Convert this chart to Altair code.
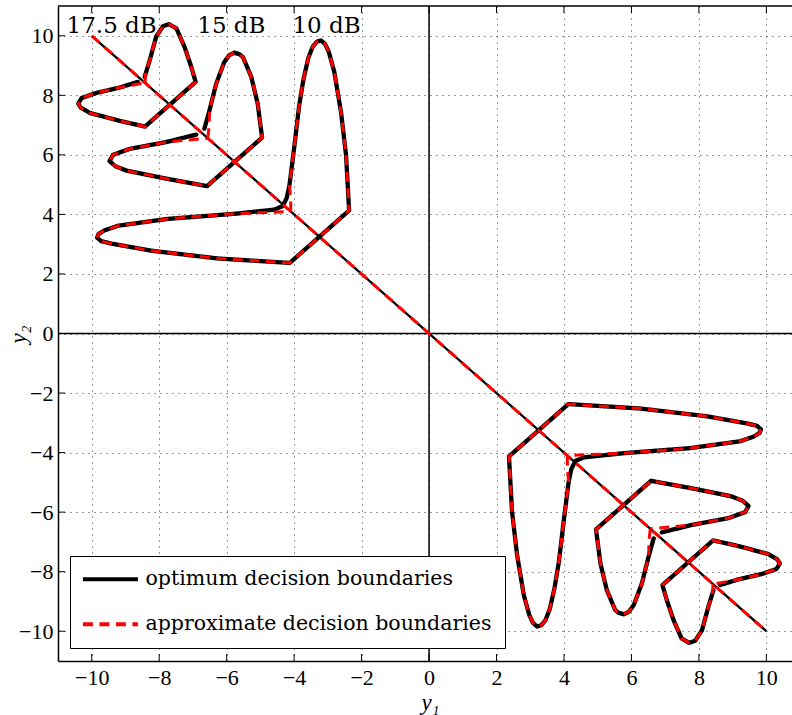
import altair as alt
import pandas as pd

# ---- axes -------------------------------------------------------------
TICKS = [-10, -8, -6, -4, -2, 0, 2, 4, 6, 8, 10]
X_DOMAIN = [-11, 10.76]
Y_DOMAIN = [-11, 11]

OPT = "optimum decision boundaries"
APX = "approximate decision boundaries"

# ---- decision boundaries, upper-left branch (y1, y2) --------------------
# the lower-right branch is the point reflection (y1, y2) -> (-y1, -y2)
opt10_y1 = [-4.22, -4.14, -3.99, -3.85, -3.72, -3.58, -3.45, -3.33, -3.20, -3.08,
            -2.97, -2.81, -2.61, -2.46, -2.37, -4.13, -6.26, -8.23, -9.42, -9.72,
            -9.84, -9.80, -9.63, -9.22, -7.74, -5.77, -4.59, -4.34, -4.22]
opt10_y2 = [4.55, 4.97, 6.32, 7.66, 8.55, 9.25, 9.63, 9.80, 9.84, 9.72,
            9.45, 8.79, 7.44, 5.98, 4.13, 2.37, 2.52, 2.78, 3.02, 3.10,
            3.22, 3.34, 3.46, 3.62, 3.85, 4.02, 4.16, 4.28, 4.55]
apx10_y1 = [-4.10, -4.10, -4.14, -3.99, -3.85, -3.72, -3.58, -3.45, -3.33, -3.20,
            -3.08, -2.97, -2.81, -2.61, -2.46, -2.37, -4.13, -6.26, -8.23, -9.42,
            -9.72, -9.84, -9.80, -9.63, -9.22, -7.74, -5.77, -4.10]
apx10_y2 = [4.10, 4.55, 4.97, 6.32, 7.66, 8.55, 9.25, 9.63, 9.80, 9.84,
            9.72, 9.45, 8.79, 7.44, 5.98, 4.13, 2.37, 2.52, 2.78, 3.02,
            3.10, 3.22, 3.34, 3.46, 3.62, 3.85, 4.02, 4.10]

opt15_y1 = [-6.66, -6.51, -6.31, -6.07, -5.92, -5.77, -5.62, -5.52, -5.27, -5.08,
            -4.95, -6.58, -7.79, -8.97, -9.30, -9.47, -9.37, -8.88, -7.79, -6.90]
opt15_y2 = [6.88, 7.49, 8.39, 9.12, 9.35, 9.43, 9.38, 9.29, 8.62, 7.72,
            6.58, 4.95, 5.20, 5.47, 5.62, 5.79, 6.00, 6.20, 6.43, 6.68]
apx15_y1 = [-6.56, -6.52, -6.51, -6.31, -6.07, -5.92, -5.77, -5.62, -5.52, -5.27,
            -5.08, -4.95, -6.58, -7.79, -8.97, -9.30, -9.47, -9.37, -8.88, -7.79, -6.56]
apx15_y2 = [6.56, 6.95, 7.49, 8.39, 9.12, 9.35, 9.43, 9.38, 9.29, 8.62,
            7.72, 6.58, 4.95, 5.20, 5.47, 5.62, 5.79, 6.00, 6.20, 6.43, 6.56]

opt17_y1 = [-8.43, -8.28, -8.09, -7.89, -7.71, -7.49, -7.25, -7.05, -6.92, -8.42,
            -9.17, -10.06, -10.32, -10.40, -10.30, -9.86, -9.17, -8.63]
opt17_y2 = [8.62, 9.18, 9.97, 10.32, 10.39, 10.25, 9.63, 8.96, 8.45, 6.95,
            7.14, 7.41, 7.58, 7.72, 7.91, 8.08, 8.26, 8.45]
apx17_y1 = [-8.42, -8.40, -8.28, -8.09, -7.89, -7.71, -7.49, -7.25, -7.05, -6.92,
            -8.42, -9.17, -10.06, -10.32, -10.40, -10.30, -9.86, -9.17, -8.42]
apx17_y2 = [8.42, 8.80, 9.18, 9.97, 10.32, 10.39, 10.25, 9.63, 8.96, 8.45,
            6.95, 7.14, 7.41, 7.58, 7.72, 7.91, 8.08, 8.26, 8.42]

# common diagonal boundary
diag_y1 = [-10, 10]
diag_y2 = [10, -10]

# SNR annotations
snr_labels = ["17.5 dB", "15 dB", "10 dB"]
snr_y1 = [-9.41, -5.86, -3.04]
snr_y2 = [10.08, 10.08, 10.08]


def build(curves, kind):
    rows = []
    for name, xs, ys in curves:
        for sign, side in ((1, "ul"), (-1, "lr")):
            for i, (a, b) in enumerate(zip(xs, ys)):
                rows.append({"curve": f"{name}-{side}", "kind": kind,
                             "order": i, "y1": sign * a, "y2": sign * b})
    return pd.DataFrame(rows)


opt_df = build([("10", opt10_y1, opt10_y2), ("15", opt15_y1, opt15_y2),
                ("17.5", opt17_y1, opt17_y2)], OPT)
apx_df = build([("10", apx10_y1, apx10_y2), ("15", apx15_y1, apx15_y2),
                ("17.5", apx17_y1, apx17_y2)], APX)
diag_df = pd.DataFrame({"y1": diag_y1, "y2": diag_y2, "order": [0, 1]})
text_df = pd.DataFrame({"y1": snr_y1, "y2": snr_y2, "label": snr_labels})
xtick_df = pd.DataFrame({"y1": TICKS})
ytick_df = pd.DataFrame({"y2": TICKS})
top_df = pd.DataFrame({"y1": [X_DOMAIN[0]], "y1b": [X_DOMAIN[1]], "y2": [Y_DOMAIN[1]]})

# ---- shared encodings ---------------------------------------------------
xs = alt.Scale(domain=X_DOMAIN, nice=False, zero=False)
ys = alt.Scale(domain=Y_DOMAIN, nice=False, zero=False)

common_axis = dict(values=TICKS, ticks=False, labelFont="Liberation Serif",
                   labelFontSize=22, labelColor="black", labelOverlap=False,
                   labelFlush=False, grid=True, gridDash=[1, 5], gridColor="#333333",
                   gridWidth=1, gridOpacity=1, domainColor="black", domainWidth=1.5,
                   titleFont="Liberation Serif", titleFontStyle="italic",
                   titleFontSize=23, titleFontWeight="normal", titleColor="black",
                   titleAlign="center", titleBaseline="middle")
x_axis = alt.Axis(title="y₁", labelPadding=6, titleX=372, titleY=41, **common_axis)
y_axis = alt.Axis(title="y₂", labelPadding=5, titleX=-40, titleY=328,
                  titleAngle=270, **common_axis)


def X(field="y1"):
    return alt.X(f"{field}:Q", scale=xs, axis=x_axis)


def Y(field="y2"):
    return alt.Y(f"{field}:Q", scale=ys, axis=y_axis)


# legend sample: a long horizontal stroke drawn from a short symbol footprint
legend = alt.Legend(title=None, orient="none", legendX=12, legendY=550,
                    symbolType="M-1.5,0H6.5", symbolSize=189, symbolStrokeWidth=4,
                    labelFont="DejaVu Serif", labelFontSize=20.5, labelColor="black",
                    labelOffset=42, labelLimit=800, rowPadding=24, padding=13,
                    strokeColor="black", fillColor="white")
color_enc = alt.Color("kind:N", scale=alt.Scale(domain=[OPT, APX], range=["black", "#ff0000"]),
                      legend=legend)
dash_enc = alt.StrokeDash("kind:N", scale=alt.Scale(domain=[OPT, APX], range=[[1, 0], [10, 6.5]]),
                          legend=legend)

# ---- layers -------------------------------------------------------------
zero_v = alt.Chart(pd.DataFrame({"y1": [0]})).mark_rule(color="black", strokeWidth=1.5).encode(x=X())
zero_h = alt.Chart(pd.DataFrame({"y2": [0]})).mark_rule(color="black", strokeWidth=1.5).encode(y=Y())

diag_black = alt.Chart(diag_df).mark_line(color="black", strokeWidth=2.3).encode(
    x=X(), y=Y(), order="order:Q")
diag_red = alt.Chart(diag_df).mark_line(color="#ff0000", strokeWidth=3, strokeDash=[10, 7]).encode(
    x=X(), y=Y(), order="order:Q")

opt_lines = alt.Chart(opt_df).mark_line(strokeWidth=4.3, strokeJoin="round", strokeCap="round").encode(
    x=X(), y=Y(), color=color_enc, strokeDash=dash_enc, detail="curve:N", order="order:Q")
apx_lines = alt.Chart(apx_df).mark_line(strokeWidth=3, strokeJoin="miter").encode(
    x=X(), y=Y(), color=color_enc, strokeDash=dash_enc, detail="curve:N", order="order:Q")

snr_text = alt.Chart(text_df).mark_text(font="DejaVu Serif", fontSize=23, color="black",
                                        align="center", baseline="alphabetic").encode(
    x=X(), y=Y(), text="label:N")

# inward tick marks on the bottom, top and left edges, and the top frame line
tick_bottom = alt.Chart(xtick_df).mark_rule(color="black", strokeWidth=1).encode(
    x=X(), y=alt.value(655), y2=alt.value(648))
tick_top = alt.Chart(xtick_df).mark_rule(color="black", strokeWidth=1).encode(
    x=X(), y=alt.value(0), y2=alt.value(7))
tick_left = alt.Chart(ytick_df).mark_rule(color="black", strokeWidth=1).encode(
    y=Y(), x=alt.value(0), x2=alt.value(7))
top_frame = alt.Chart(top_df).mark_rule(color="black", strokeWidth=1.5).encode(
    x=X(), x2="y1b:Q", y=Y())

chart = alt.layer(
    zero_v, zero_h, diag_black, opt_lines, diag_red, apx_lines,
    snr_text, tick_bottom, tick_top, tick_left, top_frame,
).properties(
    width=734, height=655,
    autosize=alt.AutoSizeParams(type="none"),
    padding={"left": 58, "top": 6, "right": 0, "bottom": 54},
    background="white",
).configure_view(strokeWidth=0)

chart.save("out.html", embed_options={"renderer": "svg", "actions": False})
